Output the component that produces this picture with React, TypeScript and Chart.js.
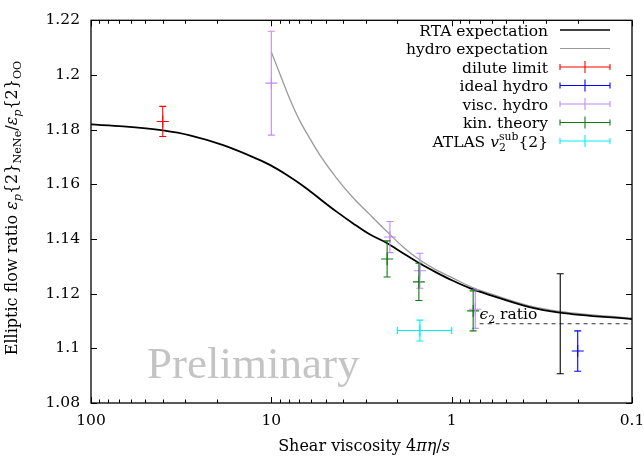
import React, { useEffect, useRef } from "react";
import { Chart, registerables } from "chart.js";

Chart.register(...registerables);

// ---- data ----
const rtaX = [100, 66.2, 39.9, 28.3, 18.5, 12.1, 10.19, 8.24, 6.66, 5.39, 4.35, 3.52, 2.85, 2.3, 1.86, 1.5, 1.22, 0.983, 0.794, 0.6, 0.37, 0.252, 0.1];
const rtaY = [1.1819, 1.1812, 1.1797, 1.1779, 1.1743, 1.1694, 1.1671, 1.1635, 1.1594, 1.1547, 1.15, 1.1457, 1.1417, 1.1386, 1.1348, 1.131, 1.1278, 1.1247, 1.122, 1.1193, 1.1151, 1.1131, 1.1107];

const hydroX = [10, 8.86, 7.9, 6.95, 6.12, 5.39, 4.35, 3.52, 2.85, 2.3, 1.86, 1.5, 1.22, 0.983, 0.794, 0.6, 0.37, 0.252, 0.1];
const hydroY = [1.2084, 1.1995, 1.1912, 1.1832, 1.1768, 1.1708, 1.1623, 1.1551, 1.149, 1.1429, 1.1371, 1.1323, 1.1287, 1.1257, 1.1227, 1.1198, 1.1155, 1.1135, 1.111];

const diluteX = [40];
const diluteY = [1.183];
const diluteErr = [0.0055];

const idealX = [0.2];
const idealY = [1.099];
const idealErr = [0.0074];

const viscX = [10, 2.2, 1.5, 0.74];
const viscY = [1.197, 1.1407, 1.1284, 1.1143];
const viscErr = [0.019, 0.0057, 0.0064, 0.007];

const kinX = [2.28, 1.52, 0.76];
const kinY = [1.1327, 1.1243, 1.1137];
const kinErr = [0.0066, 0.0068, 0.0073];

const atlasX = [1.5];
const atlasXLo = [1.0];
const atlasXHi = [2.0];
const atlasY = [1.1065];
const atlasErr = [0.0038];

const eps2X = [0.25];
const eps2Y = [1.109];
const eps2Err = [0.0183];

const eps2LineX = [0.7, 0.1];
const eps2LineY = [1.109, 1.109];

const xMajorTicks = [100, 10, 1, 0.1];
const xMinorTicks = [90, 80, 70, 60, 50, 40, 30, 20, 9, 8, 7, 6, 5, 4, 3, 2, 0.9, 0.8, 0.7, 0.6, 0.5, 0.4, 0.3, 0.2];
const yTicks = [1.08, 1.1, 1.12, 1.14, 1.16, 1.18, 1.2, 1.22];

const FONT = "'DejaVu Serif', serif";
const WFONT = "'Liberation Serif', 'Times New Roman', serif";

const C_RED = "#ff0000";
const C_BLUE = "#0000ff";
const C_VISC = "#c08aff";
const C_KIN = "#107a10";
const C_ATLAS = "#00f0f0";
const C_HYDRO = "#9a9a9a";

type Seg = { t: string; it?: boolean; pos?: "sub" | "sup"; overlap?: boolean };

function drawRich(ctx: CanvasRenderingContext2D, segs: Seg[], x0: number, y0: number, size: number, align: "left" | "right" | "center"): number {
  const small = size * 0.7;
  let x = 0;
  let pending = 0;
  const items: { s: Seg; x: number; f: string; dy: number }[] = [];
  for (const s of segs) {
    const sz = s.pos ? small : size;
    const f = `${s.it ? "italic " : ""}${sz}px ${FONT}`;
    ctx.font = f;
    const w = ctx.measureText(s.t).width;
    const dy = s.pos === "sub" ? size * 0.28 : s.pos === "sup" ? -size * 0.4 : 0;
    items.push({ s, x, f, dy });
    if (s.overlap) {
      pending = w;
    } else {
      x += Math.max(w, pending);
      pending = 0;
    }
  }
  const total = x;
  const off = align === "left" ? 0 : align === "right" ? -total : -total / 2;
  ctx.textAlign = "left";
  ctx.textBaseline = "alphabetic";
  for (const it of items) {
    ctx.font = it.f;
    ctx.fillText(it.s.t, x0 + off + it.x, y0 + it.dy);
  }
  return total;
}

type LegendItem = { label: Seg[]; color: string; kind: "line" | "err"; width?: number };
const legendItems: LegendItem[] = [
  { label: [{ t: "RTA expectation" }], color: "#000", kind: "line", width: 1.6 },
  { label: [{ t: "hydro expectation" }], color: C_HYDRO, kind: "line", width: 1.2 },
  { label: [{ t: "dilute limit" }], color: C_RED, kind: "err" },
  { label: [{ t: "ideal hydro" }], color: C_BLUE, kind: "err" },
  { label: [{ t: "visc. hydro" }], color: C_VISC, kind: "err" },
  { label: [{ t: "kin. theory" }], color: C_KIN, kind: "err" },
  {
    label: [{ t: "ATLAS " }, { t: "v", it: true }, { t: "sub", pos: "sup", overlap: true }, { t: "2", pos: "sub" }, { t: "{2}" }],
    color: C_ATLAS,
    kind: "err",
  },
];

const decor = {
  id: "decor",
  beforeDatasetsDraw(chart: any) {
    const ctx: CanvasRenderingContext2D = chart.ctx;
    ctx.save();
    ctx.fillStyle = "#c4c4c4";
    ctx.font = `45px ${WFONT}`;
    ctx.textAlign = "left";
    ctx.textBaseline = "alphabetic";
    ctx.fillText("Preliminary", 147, 378);
    ctx.restore();
  },
  afterDatasetsDraw(chart: any) {
    const ctx: CanvasRenderingContext2D = chart.ctx;
    const xs = chart.scales.x;
    const ys = chart.scales.y;
    const area = chart.chartArea;
    ctx.save();

    // error bars
    chart.data.datasets.forEach((ds: any) => {
      if (!ds.errY) return;
      ctx.strokeStyle = ds.borderColor;
      ctx.lineWidth = 1.1;
      ds.data.forEach((p: any, i: number) => {
        const px = xs.getPixelForValue(p.x);
        const top = ys.getPixelForValue(p.y + ds.errY[i]);
        const bot = ys.getPixelForValue(p.y - ds.errY[i]);
        const cap = 3.5;
        ctx.beginPath();
        ctx.moveTo(px, top);
        ctx.lineTo(px, bot);
        ctx.moveTo(px - cap, top);
        ctx.lineTo(px + cap, top);
        ctx.moveTo(px - cap, bot);
        ctx.lineTo(px + cap, bot);
        if (ds.errXLo) {
          const py = ys.getPixelForValue(p.y);
          const l = xs.getPixelForValue(ds.errXLo[i]);
          const r = xs.getPixelForValue(ds.errXHi[i]);
          ctx.moveTo(l, py);
          ctx.lineTo(r, py);
          ctx.moveTo(l, py - cap);
          ctx.lineTo(l, py + cap);
          ctx.moveTo(r, py - cap);
          ctx.lineTo(r, py + cap);
        }
        ctx.stroke();
      });
    });

    // frame
    ctx.strokeStyle = "#000";
    ctx.lineWidth = 1.3;
    ctx.strokeRect(area.left, area.top, area.right - area.left, area.bottom - area.top);

    // inward ticks
    ctx.lineWidth = 1;
    ctx.beginPath();
    const drawX = (v: number, len: number) => {
      const px = Math.round(xs.getPixelForValue(v)) + 0.5;
      ctx.moveTo(px, area.bottom);
      ctx.lineTo(px, area.bottom - len);
      ctx.moveTo(px, area.top);
      ctx.lineTo(px, area.top + len);
    };
    xMajorTicks.forEach((v) => drawX(v, 6));
    xMinorTicks.forEach((v) => drawX(v, 3.5));
    yTicks.forEach((v) => {
      const py = Math.round(ys.getPixelForValue(v)) + 0.5;
      ctx.moveTo(area.left, py);
      ctx.lineTo(area.left + 6, py);
      ctx.moveTo(area.right, py);
      ctx.lineTo(area.right - 6, py);
    });
    ctx.stroke();

    // eps2 ratio label
    ctx.fillStyle = "#000";
    drawRich(
      ctx,
      [{ t: "ϵ", it: true }, { t: "2", pos: "sub" }, { t: " ratio" }],
      xs.getPixelForValue(eps2LineX[0]),
      ys.getPixelForValue(eps2LineY[0]) - 5,
      15.5,
      "left"
    );

    // legend
    const textRight = 548;
    const symL = 560;
    const symR = 610;
    legendItems.forEach((it, i) => {
      const cy = 30 + i * 18.5;
      ctx.fillStyle = "#000";
      drawRich(ctx, it.label, textRight, cy + 5.5, 15.5, "right");
      ctx.strokeStyle = it.color;
      ctx.beginPath();
      if (it.kind === "line") {
        ctx.lineWidth = it.width || 1;
        ctx.moveTo(symL, cy);
        ctx.lineTo(symR, cy);
      } else {
        ctx.lineWidth = 1.1;
        ctx.moveTo(symL, cy);
        ctx.lineTo(symR, cy);
        ctx.moveTo(symL, cy - 3);
        ctx.lineTo(symL, cy + 3);
        ctx.moveTo(symR, cy - 3);
        ctx.lineTo(symR, cy + 3);
        const mid = (symL + symR) / 2;
        ctx.moveTo(mid, cy - 6);
        ctx.lineTo(mid, cy + 6);
      }
      ctx.stroke();
    });

    // x axis title
    ctx.fillStyle = "#000";
    drawRich(
      ctx,
      [{ t: "Shear viscosity 4" }, { t: "πη", it: true }, { t: "/" }, { t: "s", it: true }],
      364,
      451,
      16,
      "center"
    );

    // y axis title (rotated)
    const ySegs: Seg[] = [
      { t: "Elliptic flow ratio " },
      { t: "ε", it: true },
      { t: "p", it: true, pos: "sub" },
      { t: "{2}" },
      { t: "NeNe", pos: "sub" },
      { t: "/" },
      { t: "ε", it: true },
      { t: "p", it: true, pos: "sub" },
      { t: "{2}" },
      { t: "OO", pos: "sub" },
    ];
    ctx.translate(17, 208);
    ctx.rotate(-Math.PI / 2);
    drawRich(ctx, ySegs, 0, 0, 16, "center");
    ctx.restore();
  },
};

function pts(xv: number[], yv: number[]) {
  return xv.map((x, i) => ({ x, y: yv[i] }));
}

function errSet(label: string, color: string, xv: number[], yv: number[], err: number[], extra: any = {}) {
  return {
    label,
    data: pts(xv, yv),
    borderColor: color,
    backgroundColor: color,
    pointStyle: "cross",
    pointRadius: 6,
    pointBorderWidth: 1.1,
    showLine: false,
    errY: err,
    ...extra,
  } as any;
}

export default function App() {
  const ref = useRef<HTMLCanvasElement | null>(null);
  useEffect(() => {
    if (!ref.current) return;
    const chart = new Chart(ref.current, {
      type: "scatter",
      data: {
        datasets: [
          {
            label: "RTA expectation",
            data: pts(rtaX, rtaY),
            borderColor: "#000",
            borderWidth: 1.8,
            pointRadius: 0,
            showLine: true,
            cubicInterpolationMode: "monotone",
          } as any,
          {
            label: "hydro expectation",
            data: pts(hydroX, hydroY),
            borderColor: C_HYDRO,
            borderWidth: 1.3,
            pointRadius: 0,
            showLine: true,
            cubicInterpolationMode: "monotone",
          } as any,
          {
            label: "eps2 ratio",
            data: pts(eps2LineX, eps2LineY),
            borderColor: "#333",
            borderWidth: 1.1,
            borderDash: [4, 4],
            pointRadius: 0,
            showLine: true,
          } as any,
          errSet("dilute limit", C_RED, diluteX, diluteY, diluteErr),
          errSet("ideal hydro", C_BLUE, idealX, idealY, idealErr),
          errSet("visc. hydro", C_VISC, viscX, viscY, viscErr),
          errSet("kin. theory", C_KIN, kinX, kinY, kinErr),
          errSet("ATLAS", C_ATLAS, atlasX, atlasY, atlasErr, { errXLo: atlasXLo, errXHi: atlasXHi }),
          errSet("eps2", "#000", eps2X, eps2Y, eps2Err, { pointRadius: 0 }),
        ],
      },
      options: {
        animation: false,
        responsive: false,
        layout: { padding: { top: 15, right: 12, left: 0, bottom: 0 } },
        plugins: { legend: { display: false }, tooltip: { enabled: false } },
        scales: {
          x: {
            type: "logarithmic",
            reverse: true,
            min: 0.1,
            max: 100,
            border: { display: false },
            grid: { display: false, drawTicks: false },
            afterBuildTicks: (s: any) => {
              s.ticks = [...xMajorTicks, ...xMinorTicks].map((v) => ({ value: v }));
            },
            afterFit: (s: any) => {
              s.height = 55;
            },
            ticks: {
              autoSkip: false,
              maxRotation: 0,
              padding: 9,
              color: "#000",
              font: { family: FONT, size: 15.5 },
              callback: (v: any) => (xMajorTicks.includes(Number(v)) ? String(v) : ""),
            },
          },
          y: {
            min: 1.08,
            max: 1.22,
            border: { display: false },
            grid: { display: false, drawTicks: false },
            afterBuildTicks: (s: any) => {
              s.ticks = yTicks.map((v) => ({ value: v }));
            },
            afterFit: (s: any) => {
              s.width = 91;
            },
            ticks: {
              padding: 11,
              color: "#000",
              font: { family: FONT, size: 15.5 },
              callback: (v: any) => String(v),
            },
          },
        },
      },
      plugins: [decor],
    });
    return () => chart.destroy();
  }, []);
  return (
    <div style={{ position: "absolute", left: 0, top: 0, width: 644, height: 458, background: "#fff" }}>
      <canvas ref={ref} width={644} height={458} style={{ display: "block" }} />
    </div>
  );
}
